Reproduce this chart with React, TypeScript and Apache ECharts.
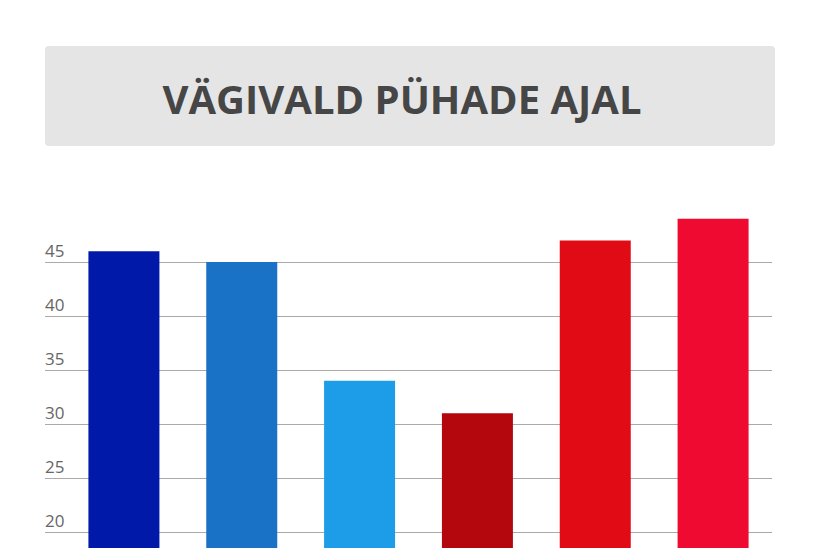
import React, { useEffect, useRef } from 'react';
import * as echarts from 'echarts';

const categories = ['1', '2', '3', '4', '5', '6'];
const values = [46, 45, 34, 31, 47, 49];
const barColors = ['#0019A8', '#1A72C6', '#1D9DE8', '#B3060D', '#E00B14', '#EE0A31'];
const titleText = 'VÄGIVALD PÜHADE AJAL';
// the picture is cut at the bottom: ticks below 20 are out of view
const lowestShownTick = 20;

export default function App() {
    const chartRef = useRef<HTMLDivElement>(null);

    useEffect(() => {
        const chart = echarts.init(chartRef.current!, undefined, { renderer: 'svg' });

        chart.setOption({
            animation: false,
            backgroundColor: '#ffffff',
            graphic: [
                {
                    type: 'rect',
                    left: 45,
                    top: 46,
                    shape: { width: 730, height: 100, r: 4 },
                    style: { fill: '#e5e5e5' },
                },
                {
                    type: 'text',
                    x: 402,
                    y: 98,
                    style: {
                        text: titleText,
                        fill: '#464646',
                        font: 'bold 40px "Open Sans"',
                        align: 'center',
                        verticalAlign: 'middle',
                    },
                },
            ],
            grid: [
                { left: 45, right: 48, top: 208, bottom: 52 },
                { left: 65, right: 48, top: 208, bottom: 52 },
            ],
            xAxis: [
                { type: 'category', gridIndex: 0, data: [], show: false },
                {
                    type: 'category',
                    gridIndex: 1,
                    data: categories,
                    axisLine: { show: false },
                    axisTick: { show: false },
                    axisLabel: { show: false },
                },
            ],
            yAxis: [
                {
                    type: 'value',
                    gridIndex: 0,
                    min: 0,
                    max: 50,
                    interval: 5,
                    axisLine: { show: false },
                    axisTick: { show: false },
                    splitLine: {
                        show: true,
                        showMaxLine: false,
                        lineStyle: { color: '#aaaaaa', width: 1 },
                    },
                    axisLabel: {
                        inside: true,
                        margin: 0,
                        showMaxLabel: false,
                        align: 'left',
                        verticalAlign: 'bottom',
                        padding: [0, 0, 3, 0],
                        color: '#666666',
                        fontSize: 17,
                        fontFamily: 'Open Sans',
                        formatter: (v: number) => (v < lowestShownTick ? '' : String(v)),
                    },
                },
                { type: 'value', gridIndex: 1, min: 0, max: 50, show: false },
            ],
            series: [
                {
                    type: 'bar',
                    xAxisIndex: 1,
                    yAxisIndex: 1,
                    barWidth: 71,
                    data: values.map((v, i) => ({ value: v, itemStyle: { color: barColors[i] } })),
                },
            ],
        });

        return () => {
            chart.dispose();
        };
    }, []);

    return (
        <div style={{ position: 'fixed', left: 0, top: 0, width: 820, height: 548, overflow: 'hidden', background: '#fff' }}>
            <div ref={chartRef} style={{ width: 820, height: 800 }} />
        </div>
    );
}
